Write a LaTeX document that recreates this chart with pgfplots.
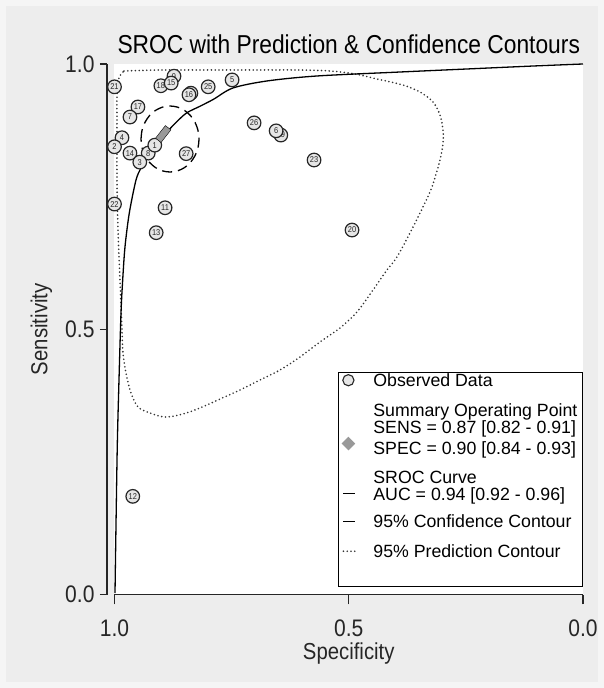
\documentclass[border=0pt]{standalone}
\usepackage{pgfplots}
\pgfplotsset{compat=1.18}
\usepackage{fontspec}
\setmainfont{Liberation Sans}
\newfontfamily\condfont[FakeStretch=0.88]{Liberation Sans}
\definecolor{bgout}{HTML}{F5F5F5}
\definecolor{bgin}{HTML}{EDEDED}
\definecolor{ptfill}{HTML}{E6E6E6}
\definecolor{sumgray}{HTML}{999999}
\definecolor{axcol}{HTML}{262626}
\newcommand\LT[1]{\makebox[206bp][l]{#1}}

\pgfplotstableread{
x y lab
0.984 0.861 4
0.873 0.977 9
0.837 0.945 10
0.645 0.866 19
0.928 0.832 8
}\behind

\pgfplotstableread{
x y lab
1.000 0.957 21
0.901 0.959 18
0.879 0.964 15
0.800 0.957 25
0.749 0.970 5
0.841 0.942 16
0.950 0.919 17
0.967 0.900 7
0.702 0.889 26
0.655 0.874 6
0.574 0.819 23
1.000 0.844 2
0.967 0.832 14
0.914 0.847 1
0.946 0.815 3
0.847 0.831 27
1.000 0.736 22
0.892 0.729 11
0.911 0.682 13
0.493 0.687 20
0.961 0.185 12
}\front

\begin{document}
\begin{tikzpicture}
\fill[bgout] (-114.5bp,-93.5bp) rectangle (489.5bp,594.5bp);
\fill[bgin] (-108bp,-87.5bp) rectangle (483bp,588.7bp);
\node[font=\condfont\fontsize{26}{28}\selectfont, anchor=base] at (234.25bp,541.2bp) {SROC with Prediction \& Confidence Contours};

\begin{axis}[at={(0,0)}, anchor=south west, scale only axis,
  width=468.5bp, height=530.5bp,
  xmin=0, xmax=1, ymin=0, ymax=1, x dir=reverse,
  axis background/.style={fill=white},
  axis line style={draw=none}, xtick=\empty, ytick=\empty, clip=false,
  legend style={at={(1,0.4194)}, anchor=north east, draw=black, line width=1.2bp,
    fill=white, inner xsep=3bp, inner ysep=1bp, row sep=0pt, column sep=0pt,
    font=\fontsize{17.8}{17.8}\selectfont, cells={anchor=base west},
    nodes={inner sep=0pt, text height=13bp, text depth=3.7bp}}]

% 95% prediction contour
\addplot[forget plot, smooth, black!80, line width=1.8bp, line cap=round, dash pattern=on 0bp off 3.8bp] coordinates {
(0.9797,0.9868) (0.9029,0.9887) (0.8175,0.9887) (0.7108,0.9887) (0.6041,0.9887)
(0.5400,0.9868) (0.4867,0.9812) (0.4397,0.9717) (0.3842,0.9604) (0.3479,0.9472)
(0.3202,0.9284) (0.3052,0.9039) (0.2988,0.8756) (0.2988,0.8511) (0.3052,0.8191)
(0.3223,0.7682) (0.3415,0.7305) (0.3693,0.6815) (0.3970,0.6362) (0.4184,0.6117)
(0.4482,0.5740) (0.4824,0.5325) (0.5187,0.5024) (0.5614,0.4760) (0.6041,0.4477)
(0.6467,0.4232) (0.6894,0.4044) (0.7321,0.3855) (0.7791,0.3667) (0.8175,0.3516)
(0.8538,0.3402) (0.8922,0.3346) (0.9242,0.3421) (0.9498,0.3534) (0.9648,0.3798)
(0.9755,0.4175) (0.9819,0.4552) (0.9840,0.4986) (0.9883,0.5928) (0.9925,0.6871)
(0.9947,0.7813) (0.9947,0.8944) (0.9947,0.9397) (0.9904,0.9736) (0.9797,0.9868)};

% SROC curve
\addplot[forget plot, smooth, black, line width=1.3bp] coordinates {
(0.9989,0.0028) (0.9975,0.0895) (0.9941,0.2781) (0.9904,0.4044) (0.9861,0.5307)
(0.9825,0.5929) (0.9776,0.6551) (0.9684,0.7191) (0.9541,0.7813) (0.9434,0.8039)
(0.9328,0.8209) (0.9157,0.8454) (0.8901,0.8699) (0.8698,0.8888) (0.8463,0.9076)
(0.8164,0.9208) (0.7876,0.9340) (0.7471,0.9548) (0.6745,0.9680) (0.5678,0.9774)
(0.3906,0.9849) (0.2476,0.9906) (0.1067,0.9962) (0.0000,1.0000)};

% 95% confidence contour
\addplot[forget plot, smooth, black, line width=1.3bp, dash pattern=on 10bp off 6bp] coordinates {
(0.9434,0.8586) (0.9413,0.8747) (0.9351,0.8897) (0.9253,0.9026) (0.9125,0.9125)
(0.8975,0.9187) (0.8815,0.9208) (0.8655,0.9187) (0.8505,0.9125) (0.8377,0.9026)
(0.8279,0.8897) (0.8217,0.8747) (0.8196,0.8586) (0.8217,0.8425) (0.8279,0.8275)
(0.8377,0.8146) (0.8505,0.8047) (0.8655,0.7985) (0.8815,0.7964) (0.8975,0.7985)
(0.9125,0.8047) (0.9253,0.8146) (0.9351,0.8275) (0.9413,0.8425) (0.9434,0.8586)};

% observed data
\addplot[forget plot, only marks, mark=*, mark size=6.8bp,
  mark options={draw=black!85, fill=ptfill, line width=1.2bp},
  point meta=explicit symbolic, nodes near coords, nodes near coords align={anchor=center},
  every node near coord/.append style={font=\condfont\fontsize{8.5}{9}\selectfont, inner sep=0pt, text=black!85}]
  table[x=x, y=y, meta=lab] {\behind};
\addplot[forget plot, only marks, mark=*, mark size=6.8bp,
  mark options={draw=black!85, fill=ptfill, line width=1.2bp},
  point meta=explicit symbolic, nodes near coords, nodes near coords align={anchor=center},
  every node near coord/.append style={font=\condfont\fontsize{8.5}{9}\selectfont, inner sep=0pt, text=black!85}]
  table[x=x, y=y, meta=lab] {\front};

% summary operating point
\addplot[forget plot, only marks, mark=square*, mark size=4bp,
  mark options={fill=sumgray, draw=none, rotate=52, xscale=2, yscale=0.875}]
  coordinates {(0.896,0.868)};

\addlegendimage{legend image code/.code={\path[draw=none] (0bp,0bp) -- (31bp,0bp);
  \draw[line width=1.1bp, draw=black!85, fill=ptfill] (6bp,6.4bp) circle[radius=5.6bp];}}
\addlegendentry[text depth=17bp]{\LT{Observed Data}}
\addlegendimage{legend image code/.code={\path[draw=none] (0bp,0bp) -- (31bp,0bp);}}
\addlegendentry[text depth=3.7bp]{\LT{Summary Operating Point}}
\addlegendimage{legend image code/.code={\path[draw=none] (0bp,0bp) -- (31bp,0bp);}}
\addlegendentry[text depth=3.6bp]{\LT{SENS = 0.87 [0.82 - 0.91]}}
\addlegendimage{legend image code/.code={\path[draw=none] (0bp,0bp) -- (31bp,0bp);
  \fill[sumgray] (6bp,4.7bp) -- (12bp,10.7bp) -- (6bp,16.7bp) -- (0bp,10.7bp) -- cycle;}}
\addlegendentry[text depth=16.7bp]{\LT{SPEC = 0.90 [0.84 - 0.93]}}
\addlegendimage{legend image code/.code={\path[draw=none] (0bp,0bp) -- (31bp,0bp);}}
\addlegendentry[text depth=4bp]{\LT{SROC Curve}}
\addlegendimage{legend image code/.code={\path[draw=none] (0bp,0bp) -- (31bp,0bp);
  \draw[line width=1.3bp] (1bp,7.4bp) -- (13bp,7.4bp);}}
\addlegendentry[text depth=13.7bp]{\LT{AUC = 0.94 [0.92 - 0.96]}}
\addlegendimage{legend image code/.code={\path[draw=none] (0bp,0bp) -- (31bp,0bp);
  \draw[line width=1.3bp] (1bp,6.4bp) -- (13bp,6.4bp);}}
\addlegendentry[text depth=17bp]{\LT{95\% Confidence Contour}}
\addlegendimage{legend image code/.code={\path[draw=none] (0bp,0bp) -- (31bp,0bp);
  \draw[line width=1.8bp, black!80, line cap=round, dash pattern=on 0bp off 3.8bp] (1bp,6.4bp) -- (15bp,6.4bp);}}
\addlegendentry[text depth=27.5bp]{\LT{95\% Prediction Contour}}
\end{axis}

% x axis (Specificity)
\begin{axis}[at={(0,0)}, anchor=south west, scale only axis,
  width=468.5bp, height=530.5bp, xmin=0, xmax=1, ymin=0, ymax=1, x dir=reverse,
  axis x line=bottom, axis y line=none,
  axis line style={-, line width=1.1bp, draw=axcol},
  xtick={0,0.5,1}, xticklabels={0.0,0.5,1.0},
  tick align=outside, major tick length=10bp,
  every tick/.style={line width=1.1bp, axcol},
  xticklabel style={font=\condfont\fontsize{24}{24}\selectfont, text=axcol, yshift=-12bp},
  xlabel={Specificity},
  xlabel style={at={(axis description cs:0.5,0)}, anchor=center, yshift=-59bp,
    font=\condfont\fontsize{23.2}{24}\selectfont, text=axcol}]
\end{axis}

% y axis (Sensitivity)
\begin{axis}[at={(-7.5bp,0)}, anchor=south west, scale only axis,
  width=2bp, height=530.5bp, xmin=0, xmax=1, ymin=0, ymax=1,
  axis y line=left, axis x line=none,
  axis line style={-, line width=1.1bp, draw=axcol},
  ytick={0,0.5,1}, yticklabels={0.0,0.5,1.0},
  tick align=outside, major tick length=7bp,
  every tick/.style={line width=1.1bp, axcol},
  yticklabel style={font=\condfont\fontsize{24}{24}\selectfont, text=axcol, xshift=-2bp},
  ylabel={Sensitivity},
  ylabel style={at={([xshift=-65.5bp]axis description cs:0,0.5)}, anchor=center, rotate=0,
    font=\condfont\fontsize{23.2}{24}\selectfont, text=axcol}]
\end{axis}
\end{tikzpicture}
\end{document}
